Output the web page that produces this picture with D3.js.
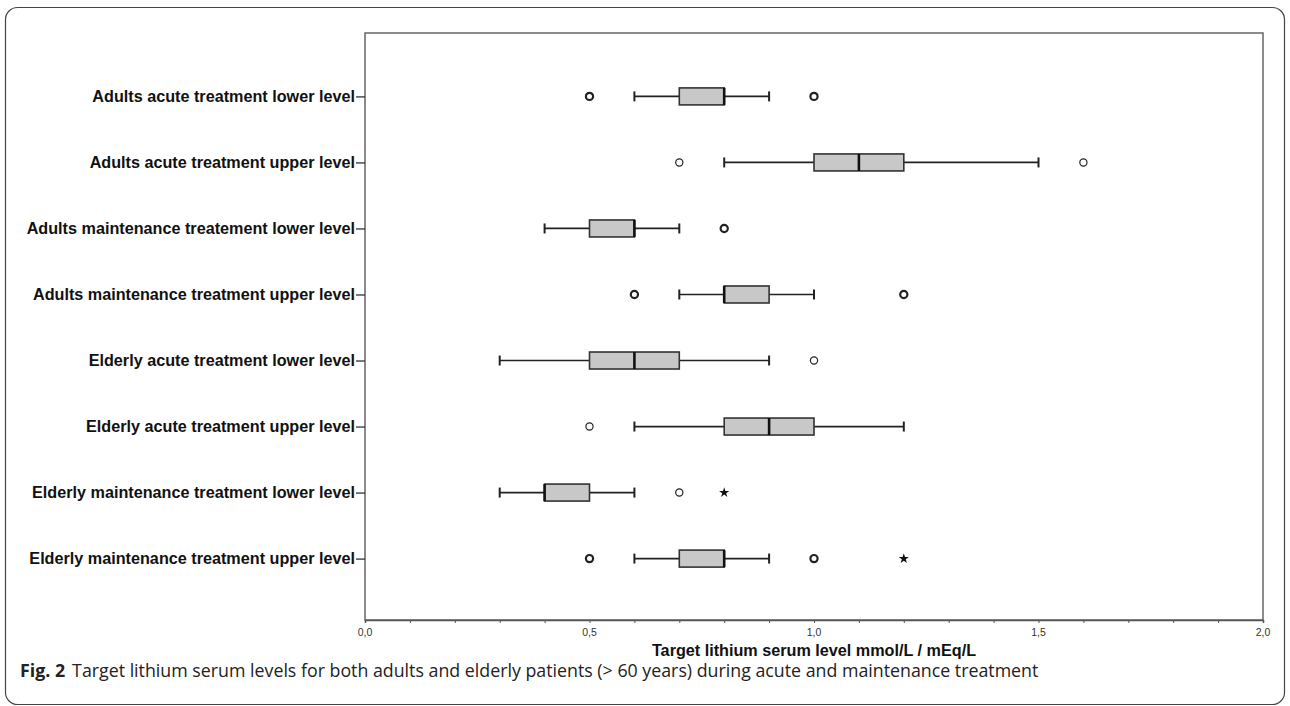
<!DOCTYPE html>
<html>
<head>
<meta charset="utf-8">
<script src="https://cdn.jsdelivr.net/npm/d3@7"></script>
<style>
  body { margin: 0; background: #fff; }
  svg { display: block; }
</style>
</head>
<body>
<div id="chart"></div>
<script>
var W = 1290, H = 706;

// categories, top to bottom
var categories = [
  "Adults acute treatment lower level",
  "Adults acute treatment upper level",
  "Adults maintenance treatement lower level",
  "Adults maintenance treatment upper level",
  "Elderly acute treatment lower level",
  "Elderly acute treatment upper level",
  "Elderly maintenance treatment lower level",
  "Elderly maintenance treatment upper level"
];
var whiskerLow  = [0.6, 0.8, 0.4, 0.7, 0.3, 0.6, 0.3, 0.6];
var q1          = [0.7, 1.0, 0.5, 0.8, 0.5, 0.8, 0.4, 0.7];
var medians     = [0.8, 1.1, 0.6, 0.8, 0.6, 0.9, 0.4, 0.8];
var q3          = [0.8, 1.2, 0.6, 0.9, 0.7, 1.0, 0.5, 0.8];
var whiskerHigh = [0.9, 1.5, 0.7, 1.0, 0.9, 1.2, 0.6, 0.9];
// outliers: [category index, value, bold (several cases)]
var outliers = [
  [0, 0.5, true], [0, 1.0, true],
  [1, 0.7, false], [1, 1.6, false],
  [2, 0.8, true],
  [3, 0.6, true], [3, 1.2, true],
  [4, 1.0, false],
  [5, 0.5, false],
  [6, 0.7, false],
  [7, 0.5, true], [7, 1.0, true]
];
// extremes (stars)
var extremes = [[6, 0.8], [7, 1.2]];
var xTicks = [0, 0.5, 1.0, 1.5, 2.0];
var xMinorTicks = d3.range(0, 21).map(function(i) { return i / 10; });

var pLeft = 365, pRight = 1263, pTop = 33, pBottom = 620;

var svg = d3.select("#chart").append("svg")
  .attr("width", W)
  .attr("height", H);

// outer rounded frame
svg.append("rect")
  .attr("x", 5.5).attr("y", 7.5)
  .attr("width", 1279).attr("height", 697)
  .attr("rx", 12).attr("ry", 12)
  .attr("fill", "none")
  .attr("stroke", "#444")
  .attr("stroke-width", 1.2);

var x = d3.scaleLinear().domain([0, 2]).range([pLeft, pRight]);
var y = d3.scalePoint().domain(categories).range([pTop + 2, pBottom]).padding(0.93);

// plot frame
svg.append("rect")
  .attr("x", pLeft).attr("y", pTop)
  .attr("width", pRight - pLeft).attr("height", pBottom - pTop)
  .attr("fill", "none")
  .attr("stroke", "#666")
  .attr("stroke-width", 1.5);

// x axis
var xAxis = svg.append("g")
  .attr("transform", "translate(0," + pBottom + ")")
  .call(d3.axisBottom(x).tickValues(xMinorTicks).tickSize(3).tickFormat(""));
xAxis.select(".domain").attr("stroke", "#555").attr("stroke-width", 1.5);
xAxis.selectAll(".tick line").attr("stroke", "#555");

svg.append("g").selectAll("text")
  .data(xTicks)
  .enter().append("text")
    .attr("x", function(d) { return x(d); })
    .attr("y", 636)
    .attr("text-anchor", "middle")
    .attr("font-family", "Liberation Sans, Arial, sans-serif")
    .attr("font-size", 10.5)
    .attr("fill", "#333")
    .text(function(d) { return d.toFixed(1).replace(".", ","); });

svg.append("text")
  .attr("x", x(1))
  .attr("y", 656)
  .attr("text-anchor", "middle")
  .attr("font-family", "Liberation Sans, Arial, sans-serif")
  .attr("font-weight", "bold")
  .attr("font-size", 16.2)
  .attr("fill", "#111")
  .text("Target lithium serum level mmol/L / mEq/L");

// y axis
var yAxis = svg.append("g")
  .attr("transform", "translate(" + pLeft + ",0)")
  .call(d3.axisLeft(y).tickSize(9).tickPadding(1));
yAxis.select(".domain").remove();
yAxis.selectAll(".tick line").attr("stroke", "#333").attr("stroke-width", 1.3);
yAxis.selectAll(".tick text")
  .attr("font-family", "Liberation Sans, Arial, sans-serif")
  .attr("font-weight", "bold")
  .attr("font-size", 16.2)
  .attr("fill", "#111");

// boxes
var boxH = 17;
var idx = d3.range(categories.length);
var boxes = svg.append("g").selectAll("g")
  .data(idx)
  .enter().append("g");

boxes.append("line")
  .attr("x1", function(i) { return x(whiskerLow[i]); })
  .attr("x2", function(i) { return x(whiskerHigh[i]); })
  .attr("y1", function(i) { return y(categories[i]); })
  .attr("y2", function(i) { return y(categories[i]); })
  .attr("stroke", "#222").attr("stroke-width", 1.7);
[whiskerLow, whiskerHigh].forEach(function(arr) {
  boxes.append("line")
    .attr("x1", function(i) { return x(arr[i]); })
    .attr("x2", function(i) { return x(arr[i]); })
    .attr("y1", function(i) { return y(categories[i]) - 5; })
    .attr("y2", function(i) { return y(categories[i]) + 5; })
    .attr("stroke", "#222").attr("stroke-width", 2);
});
boxes.append("rect")
  .attr("x", function(i) { return x(q1[i]); })
  .attr("width", function(i) { return x(q3[i]) - x(q1[i]); })
  .attr("y", function(i) { return y(categories[i]) - boxH / 2; })
  .attr("height", boxH)
  .attr("fill", "#c8c8c8")
  .attr("stroke", "#333").attr("stroke-width", 1.6);
boxes.append("line")
  .attr("x1", function(i) { return x(medians[i]); })
  .attr("x2", function(i) { return x(medians[i]); })
  .attr("y1", function(i) { return y(categories[i]) - boxH / 2; })
  .attr("y2", function(i) { return y(categories[i]) + boxH / 2; })
  .attr("stroke", "#111").attr("stroke-width", 2.6);

// outliers
svg.append("g").selectAll("circle")
  .data(outliers)
  .enter().append("circle")
    .attr("cx", function(d) { return x(d[1]); })
    .attr("cy", function(d) { return y(categories[d[0]]); })
    .attr("r", 3.6)
    .attr("fill", "#fff")
    .attr("stroke", "#222")
    .attr("stroke-width", function(d) { return d[2] ? 2.2 : 1.2; });

// extremes
var star = d3.symbol().type(d3.symbolStar).size(32);
svg.append("g").selectAll("path")
  .data(extremes)
  .enter().append("path")
    .attr("d", star)
    .attr("transform", function(d) { return "translate(" + x(d[1]) + "," + y(categories[d[0]]) + ")"; })
    .attr("fill", "#111");

// caption
var cap = svg.append("text")
  .attr("x", 20)
  .attr("y", 677)
  .attr("font-family", "Open Sans, Noto Sans, sans-serif")
  .attr("font-size", 17.8)
  .attr("fill", "#222");
cap.append("tspan").attr("font-weight", "bold").text("Fig. 2");
cap.append("tspan").attr("dx", 7).text("Target lithium serum levels for both adults and elderly patients (> 60 years) during acute and maintenance treatment");
</script>
</body>
</html>
